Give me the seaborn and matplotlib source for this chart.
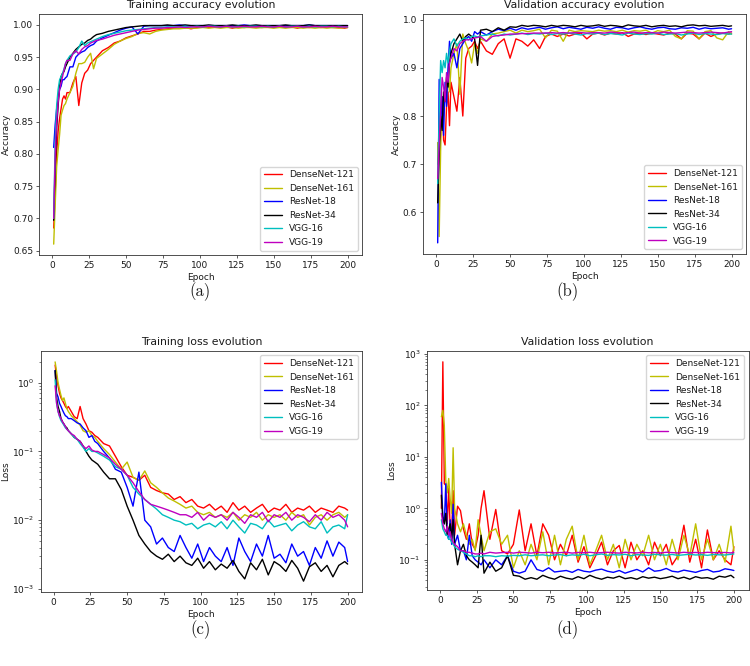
import matplotlib
matplotlib.use("Agg")
import matplotlib.pyplot as plt
import seaborn as sns

# ---------- data ----------
MODELS = ["DenseNet-121", "DenseNet-161", "ResNet-18", "ResNet-34", "VGG-16", "VGG-19"]
COLORS = ["r", "y", "b", "k", "c", "m"]

EPOCHS = [1, 2, 3, 4, 5, 6, 7, 8, 9, 10,
          12, 14, 16, 18, 20, 22, 24, 26, 28, 30,
          34, 38, 42, 46, 50, 54, 58, 62, 66, 70,
          74, 78, 82, 86, 90, 94, 98, 102, 106, 110,
          114, 118, 122, 126, 130, 134, 138, 142, 146, 150,
          154, 158, 162, 166, 170, 174, 178, 182, 186, 190,
          194, 198, 200]

# (a) training accuracy
ta_d121 = [0.685, 0.74, 0.80, 0.835, 0.855, 0.87, 0.885, 0.89, 0.885, 0.895,
           0.895, 0.91, 0.92, 0.875, 0.91, 0.925, 0.93, 0.94, 0.945, 0.95,
           0.96, 0.965, 0.972, 0.975, 0.98, 0.983, 0.986, 0.99, 0.99, 0.992,
           0.993, 0.994, 0.995, 0.995, 0.996, 0.994, 0.996, 0.997, 0.996, 0.997,
           0.996, 0.997, 0.995, 0.997, 0.996, 0.997, 0.997, 0.996, 0.997, 0.996,
           0.997, 0.996, 0.997, 0.995, 0.997, 0.996, 0.997, 0.996, 0.997, 0.996,
           0.996, 0.995, 0.996]
ta_d161 = [0.66, 0.72, 0.78, 0.806, 0.83, 0.86, 0.868, 0.875, 0.878, 0.885,
           0.895, 0.905, 0.925, 0.94, 0.94, 0.942, 0.95, 0.956, 0.932, 0.948,
           0.955, 0.962, 0.97, 0.975, 0.979, 0.982, 0.987, 0.988, 0.986, 0.99,
           0.992, 0.993, 0.994, 0.994, 0.995, 0.995, 0.995, 0.996, 0.995, 0.996,
           0.995, 0.996, 0.996, 0.995, 0.996, 0.996, 0.995, 0.996, 0.996, 0.995,
           0.996, 0.995, 0.996, 0.996, 0.995, 0.996, 0.995, 0.996, 0.995, 0.996,
           0.995, 0.996, 0.996]
ta_r18 = [0.81, 0.845, 0.87, 0.885, 0.90, 0.905, 0.915, 0.915, 0.918, 0.92,
          0.935, 0.935, 0.95, 0.955, 0.958, 0.96, 0.965, 0.968, 0.97, 0.975,
          0.98, 0.984, 0.988, 0.992, 0.995, 0.997, 0.986, 0.998, 0.999, 0.999,
          0.999, 0.999, 0.999, 1.0, 0.999, 0.999, 0.999, 0.999, 0.999, 0.999,
          0.999, 0.999, 0.999, 0.999, 1.0, 0.999, 0.999, 0.999, 0.999, 0.999,
          0.999, 0.999, 0.999, 0.999, 0.999, 1.0, 0.999, 0.999, 0.999, 0.999,
          0.999, 0.999, 0.999]
ta_r34 = [0.697, 0.78, 0.84, 0.875, 0.905, 0.92, 0.925, 0.928, 0.935, 0.94,
          0.95, 0.956, 0.962, 0.966, 0.97, 0.972, 0.976, 0.978, 0.982, 0.985,
          0.987, 0.99, 0.992, 0.994, 0.996, 0.997, 0.998, 0.999, 0.999, 0.999,
          0.999, 1.0, 0.999, 0.999, 1.0, 0.999, 0.999, 0.999, 1.0, 0.999,
          0.999, 0.999, 1.0, 0.999, 0.999, 0.999, 1.0, 0.999, 0.999, 0.999,
          0.999, 1.0, 0.999, 0.999, 0.999, 1.0, 0.999, 0.999, 0.999, 0.999,
          0.999, 0.999, 0.999]
ta_v16 = [0.70, 0.82, 0.875, 0.90, 0.915, 0.92, 0.925, 0.932, 0.94, 0.945,
          0.952, 0.955, 0.958, 0.965, 0.975, 0.968, 0.972, 0.974, 0.976, 0.978,
          0.982, 0.985, 0.987, 0.989, 0.991, 0.992, 0.993, 0.994, 0.995, 0.996,
          0.996, 0.997, 0.997, 0.997, 0.998, 0.997, 0.998, 0.997, 0.998, 0.998,
          0.997, 0.998, 0.997, 0.998, 0.997, 0.998, 0.998, 0.997, 0.998, 0.997,
          0.998, 0.997, 0.998, 0.998, 0.997, 0.998, 0.997, 0.998, 0.998, 0.997,
          0.998, 0.997, 0.997]
ta_v19 = [0.70, 0.80, 0.85, 0.88, 0.90, 0.91, 0.92, 0.93, 0.94, 0.945,
          0.945, 0.955, 0.96, 0.955, 0.962, 0.966, 0.968, 0.972, 0.974, 0.976,
          0.978, 0.981, 0.984, 0.986, 0.988, 0.99, 0.992, 0.993, 0.994, 0.995,
          0.995, 0.996, 0.996, 0.997, 0.996, 0.997, 0.997, 0.997, 0.998, 0.997,
          0.997, 0.998, 0.997, 0.997, 0.998, 0.997, 0.997, 0.998, 0.997, 0.997,
          0.998, 0.997, 0.997, 0.998, 0.997, 0.997, 0.998, 0.997, 0.997, 0.998,
          0.997, 0.997, 0.997]

# (b) validation accuracy
va_d121 = [0.70, 0.745, 0.76, 0.84, 0.75, 0.74, 0.82, 0.85, 0.78, 0.87,
           0.84, 0.81, 0.88, 0.80, 0.92, 0.94, 0.945, 0.955, 0.94, 0.955,
           0.935, 0.928, 0.95, 0.96, 0.92, 0.96, 0.955, 0.945, 0.958, 0.94,
           0.965, 0.97, 0.965, 0.97, 0.966, 0.97, 0.972, 0.96, 0.97, 0.972,
           0.968, 0.972, 0.97, 0.973, 0.965, 0.97, 0.972, 0.969, 0.972, 0.97,
           0.968, 0.972, 0.97, 0.96, 0.972, 0.97, 0.96, 0.972, 0.965, 0.97,
           0.972, 0.97, 0.972]
va_d161 = [0.745, 0.55, 0.73, 0.84, 0.80, 0.86, 0.83, 0.88, 0.85, 0.90,
           0.93, 0.95, 0.845, 0.97, 0.95, 0.935, 0.91, 0.95, 0.93, 0.96,
           0.955, 0.97, 0.972, 0.975, 0.978, 0.972, 0.978, 0.975, 0.977, 0.98,
           0.962, 0.978, 0.976, 0.955, 0.978, 0.975, 0.977, 0.976, 0.975, 0.978,
           0.976, 0.977, 0.975, 0.978, 0.974, 0.977, 0.976, 0.978, 0.972, 0.977,
           0.975, 0.978, 0.965, 0.96, 0.977, 0.976, 0.96, 0.975, 0.977, 0.962,
           0.958, 0.975, 0.97]
va_r18 = [0.537, 0.876, 0.78, 0.84, 0.76, 0.87, 0.82, 0.90, 0.955, 0.92,
          0.93, 0.90, 0.94, 0.95, 0.96, 0.965, 0.955, 0.975, 0.97, 0.975,
          0.968, 0.975, 0.98, 0.977, 0.982, 0.978, 0.983, 0.98, 0.982, 0.984,
          0.98, 0.983, 0.985, 0.981, 0.984, 0.982, 0.98, 0.984, 0.982, 0.985,
          0.982, 0.98, 0.984, 0.983, 0.98, 0.983, 0.985, 0.982, 0.98, 0.983,
          0.984, 0.981, 0.98, 0.983, 0.982, 0.984, 0.98, 0.983, 0.981, 0.982,
          0.983, 0.98, 0.981]
va_r34 = [0.62, 0.72, 0.80, 0.77, 0.85, 0.83, 0.88, 0.86, 0.91, 0.93,
          0.95, 0.96, 0.97, 0.955, 0.965, 0.97, 0.965, 0.96, 0.905, 0.978,
          0.98, 0.975, 0.983, 0.978, 0.985, 0.984, 0.988, 0.986, 0.988, 0.987,
          0.985, 0.988, 0.986, 0.988, 0.987, 0.985, 0.988, 0.986, 0.987, 0.989,
          0.986, 0.988, 0.987, 0.985, 0.989, 0.987, 0.986, 0.988, 0.985, 0.987,
          0.988, 0.986, 0.987, 0.985, 0.988, 0.989, 0.987, 0.988, 0.986, 0.987,
          0.988, 0.986, 0.987]
va_v16 = [0.66, 0.80, 0.915, 0.89, 0.915, 0.90, 0.93, 0.91, 0.935, 0.95,
          0.96, 0.945, 0.955, 0.96, 0.962, 0.958, 0.965, 0.966, 0.964, 0.966,
          0.968, 0.97, 0.966, 0.97, 0.968, 0.97, 0.972, 0.969, 0.971, 0.97,
          0.972, 0.969, 0.971, 0.97, 0.972, 0.97, 0.968, 0.971, 0.97, 0.972,
          0.969, 0.971, 0.97, 0.968, 0.972, 0.97, 0.969, 0.971, 0.97, 0.972,
          0.969, 0.97, 0.971, 0.968, 0.97, 0.972, 0.969, 0.971, 0.97, 0.969,
          0.971, 0.97, 0.97]
va_v19 = [0.67, 0.74, 0.81, 0.88, 0.86, 0.83, 0.89, 0.87, 0.91, 0.92,
          0.94, 0.935, 0.95, 0.955, 0.958, 0.958, 0.96, 0.962, 0.963, 0.965,
          0.955, 0.965, 0.967, 0.968, 0.97, 0.97, 0.971, 0.971, 0.972, 0.972,
          0.972, 0.973, 0.972, 0.973, 0.972, 0.973, 0.973, 0.972, 0.973, 0.973,
          0.972, 0.974, 0.973, 0.972, 0.973, 0.974, 0.972, 0.973, 0.973, 0.972,
          0.974, 0.973, 0.972, 0.973, 0.974, 0.973, 0.972, 0.973, 0.974, 0.973,
          0.972, 0.974, 0.975]

# (c) training loss
tl_d121 = [1.8, 1.2, 0.9, 0.7, 0.6, 0.55, 0.5, 0.45, 0.42, 0.45,
           0.38, 0.32, 0.3, 0.45, 0.3, 0.25, 0.2, 0.19, 0.17, 0.16,
           0.13, 0.12, 0.085, 0.06, 0.045, 0.042, 0.038, 0.045, 0.03, 0.027,
           0.025, 0.024, 0.02, 0.022, 0.018, 0.02, 0.016, 0.015, 0.017, 0.014,
           0.016, 0.013, 0.018, 0.014, 0.016, 0.013, 0.015, 0.017, 0.013, 0.015,
           0.014, 0.017, 0.013, 0.015, 0.014, 0.016, 0.013, 0.015, 0.014, 0.013,
           0.016, 0.015, 0.014]
tl_d161 = [2.0, 1.45, 1.0, 0.8, 0.65, 0.55, 0.6, 0.5, 0.42, 0.38,
           0.33, 0.3, 0.27, 0.24, 0.2, 0.19, 0.2, 0.17, 0.16, 0.14,
           0.11, 0.09, 0.07, 0.055, 0.07, 0.042, 0.038, 0.052, 0.035, 0.03,
           0.025, 0.021, 0.019, 0.017, 0.015, 0.016, 0.013, 0.012, 0.013, 0.011,
           0.012, 0.011, 0.013, 0.010, 0.012, 0.011, 0.013, 0.010, 0.012, 0.011,
           0.012, 0.010, 0.013, 0.011, 0.012, 0.0085, 0.011, 0.012, 0.010, 0.012,
           0.013, 0.011, 0.012]
tl_r18 = [1.5, 0.7, 0.62, 0.5, 0.45, 0.4, 0.36, 0.33, 0.32, 0.3,
          0.3, 0.28, 0.26, 0.25, 0.22, 0.2, 0.16, 0.17, 0.14, 0.13,
          0.1, 0.08, 0.055, 0.05, 0.03, 0.016, 0.05, 0.01, 0.008, 0.0045,
          0.0055, 0.004, 0.0035, 0.006, 0.004, 0.0028, 0.0045, 0.0025, 0.004, 0.003,
          0.0025, 0.004, 0.0022, 0.0055, 0.0035, 0.0025, 0.0045, 0.003, 0.006, 0.0028,
          0.0032, 0.0024, 0.0045, 0.003, 0.0035, 0.0022, 0.004, 0.0028, 0.005, 0.003,
          0.0048, 0.004, 0.0025]
tl_r34 = [1.5, 0.6, 0.45, 0.38, 0.3, 0.27, 0.25, 0.23, 0.22, 0.2,
          0.18, 0.16, 0.15, 0.14, 0.12, 0.1, 0.085, 0.075, 0.07, 0.065,
          0.05, 0.04, 0.04, 0.028, 0.016, 0.01, 0.006, 0.0045, 0.0035, 0.003,
          0.0027, 0.0032, 0.0025, 0.003, 0.0024, 0.0022, 0.0028, 0.002, 0.0025, 0.0019,
          0.0023, 0.002, 0.0026, 0.0018, 0.0014, 0.0024, 0.0019, 0.0027, 0.0016, 0.0025,
          0.0022, 0.0018, 0.0026, 0.002, 0.0013, 0.0021, 0.0024, 0.0018, 0.0022, 0.0015,
          0.0022, 0.0025, 0.0023]
tl_v16 = [1.1, 0.5, 0.38, 0.32, 0.28, 0.26, 0.24, 0.22, 0.21, 0.2,
          0.18, 0.16, 0.15, 0.13, 0.115, 0.1, 0.11, 0.1, 0.1, 0.095,
          0.085, 0.075, 0.06, 0.055, 0.045, 0.03, 0.024, 0.02, 0.017, 0.0145,
          0.012, 0.011, 0.01, 0.0095, 0.0085, 0.009, 0.0075, 0.0085, 0.009, 0.008,
          0.0095, 0.0075, 0.01, 0.008, 0.0065, 0.009, 0.0085, 0.0075, 0.01, 0.008,
          0.0085, 0.009, 0.007, 0.0085, 0.0095, 0.008, 0.0075, 0.0095, 0.0065, 0.008,
          0.0085, 0.0075, 0.012]
tl_v19 = [0.9, 0.5, 0.38, 0.33, 0.3, 0.27, 0.25, 0.23, 0.21, 0.2,
          0.18, 0.17, 0.15, 0.14, 0.12, 0.11, 0.12, 0.105, 0.1, 0.1,
          0.09, 0.08, 0.065, 0.055, 0.045, 0.035, 0.026, 0.02, 0.017, 0.016,
          0.015, 0.014, 0.013, 0.012, 0.012, 0.011, 0.013, 0.01, 0.012, 0.011,
          0.012, 0.01, 0.013, 0.011, 0.009, 0.012, 0.011, 0.013, 0.0095, 0.012,
          0.011, 0.013, 0.01, 0.012, 0.011, 0.0095, 0.012, 0.01, 0.013, 0.011,
          0.012, 0.01, 0.008]

# (d) validation loss
vl_d121 = [1.0, 700, 3.0, 2.8, 0.5, 2.5, 0.4, 0.35, 2.2, 0.3,
           1.1, 0.9, 0.4, 0.25, 0.5, 0.2, 0.16, 0.3, 1.0, 2.2,
           0.25, 0.95, 0.15, 0.13, 0.2, 0.93, 0.15, 0.5, 0.12, 0.5,
           0.3, 0.1, 0.2, 0.12, 0.3, 0.09, 0.18, 0.07, 0.12, 0.22,
           0.08, 0.15, 0.19, 0.07, 0.22, 0.1, 0.15, 0.08, 0.22, 0.12,
           0.2, 0.08, 0.12, 0.47, 0.09, 0.25, 0.07, 0.38, 0.1, 0.15,
           0.1, 0.08, 0.18]
vl_d161 = [60, 80, 40, 3.5, 2.0, 3.8, 1.5, 0.8, 15, 1.0,
           0.5, 0.35, 0.5, 0.3, 0.2, 0.25, 0.15, 0.6, 0.3, 0.15,
           0.35, 0.4, 0.2, 0.3, 0.07, 0.15, 0.08, 0.2, 0.1, 0.35,
           0.08, 0.3, 0.08, 0.25, 0.45, 0.1, 0.3, 0.08, 0.15, 0.3,
           0.1, 0.2, 0.07, 0.25, 0.1, 0.2, 0.12, 0.3, 0.1, 0.2,
           0.08, 0.25, 0.1, 0.3, 0.12, 0.5, 0.1, 0.25, 0.1, 0.2,
           0.09, 0.45, 0.15]
vl_r18 = [3.2, 0.7, 0.5, 3.0, 0.3, 0.25, 0.6, 0.2, 1.2, 0.2,
          0.3, 0.15, 0.15, 0.1, 0.3, 0.12, 0.1, 0.09, 0.08, 0.1,
          0.07, 0.1, 0.08, 0.12, 0.06, 0.055, 0.06, 0.1, 0.065, 0.06,
          0.07, 0.058, 0.06, 0.062, 0.057, 0.065, 0.06, 0.058, 0.063, 0.066,
          0.06, 0.057, 0.062, 0.055, 0.06, 0.065, 0.058, 0.07, 0.06, 0.062,
          0.068, 0.06, 0.058, 0.063, 0.06, 0.057, 0.062, 0.065, 0.058, 0.06,
          0.067, 0.064, 0.062]
vl_r34 = [1.8, 0.6, 0.5, 0.8, 0.3, 0.4, 0.5, 0.25, 0.6, 0.2,
          0.08, 0.15, 0.2, 0.12, 0.1, 0.09, 0.08, 0.07, 0.3, 0.055,
          0.09, 0.06, 0.07, 0.12, 0.05, 0.048, 0.042, 0.045, 0.042, 0.05,
          0.045, 0.042, 0.048, 0.044, 0.042, 0.047, 0.043, 0.05, 0.045, 0.042,
          0.046, 0.044, 0.048, 0.043, 0.045, 0.042, 0.047, 0.044, 0.046, 0.043,
          0.045, 0.048, 0.043, 0.046, 0.042, 0.047, 0.044, 0.045, 0.042, 0.048,
          0.046, 0.05, 0.045]
vl_v16 = [0.6, 0.4, 0.35, 0.3, 0.3, 0.25, 0.25, 0.22, 0.2, 0.18,
          0.16, 0.15, 0.14, 0.13, 0.12, 0.12, 0.115, 0.12, 0.115, 0.12,
          0.12, 0.115, 0.12, 0.118, 0.122, 0.12, 0.125, 0.12, 0.123, 0.125,
          0.12, 0.124, 0.126, 0.12, 0.125, 0.122, 0.128, 0.12, 0.125, 0.13,
          0.122, 0.126, 0.124, 0.128, 0.12, 0.126, 0.124, 0.122, 0.128, 0.125,
          0.123, 0.127, 0.122, 0.125, 0.128, 0.124, 0.126, 0.122, 0.127, 0.125,
          0.124, 0.128, 0.13]
vl_v19 = [0.8, 0.5, 0.4, 0.35, 0.45, 0.3, 0.35, 0.25, 0.22, 0.2,
          0.18, 0.15, 0.15, 0.14, 0.14, 0.135, 0.13, 0.13, 0.135, 0.13,
          0.14, 0.135, 0.138, 0.14, 0.135, 0.14, 0.138, 0.135, 0.14, 0.137,
          0.14, 0.136, 0.138, 0.14, 0.135, 0.139, 0.137, 0.14, 0.136, 0.138,
          0.14, 0.137, 0.135, 0.14, 0.138, 0.136, 0.14, 0.137, 0.139, 0.136,
          0.14, 0.138, 0.136, 0.14, 0.137, 0.139, 0.136, 0.14, 0.138, 0.137,
          0.139, 0.136, 0.14]

# ---------- style ----------
sns.set_style("ticks")
plt.rcParams.update({
    "font.family": ["DejaVu Sans"],
    "axes.edgecolor": "0.2",
    "axes.linewidth": 0.6,
    "text.color": "0.1",
    "axes.labelcolor": "0.1",
    "xtick.color": "0.1",
    "ytick.color": "0.1",
    "xtick.major.size": 2.3,
    "ytick.major.size": 2.3,
    "xtick.minor.size": 1.3,
    "ytick.minor.size": 1.3,
    "xtick.major.width": 0.5,
    "ytick.major.width": 0.5,
    "xtick.minor.width": 0.4,
    "ytick.minor.width": 0.4,
    "xtick.major.pad": 2.3,
    "ytick.major.pad": 2.0,
})

FS = 6.5


def panel(ax, series, title, ylabel, loc, log=False):
    for name, color, vals in zip(MODELS, COLORS, series):
        sns.lineplot(x=EPOCHS, y=vals, color=color, label=name, lw=1.0, ax=ax)
    if log:
        ax.set_yscale("log")
    ax.set_xticks([0, 25, 50, 75, 100, 125, 150, 175, 200])
    ax.tick_params(labelsize=FS)
    ax.set_title(title, fontsize=7.8, pad=4)
    ax.set_xlabel("Epoch", fontsize=FS, labelpad=2)
    ax.set_ylabel(ylabel, fontsize=FS, labelpad=1.5)
    ax.legend(loc=loc, fontsize=FS, frameon=True, fancybox=True,
              framealpha=0.8, edgecolor="0.8", borderpad=0.4,
              handlelength=2.0, labelspacing=0.5)


fig = plt.figure(figsize=(7.5, 6.66), dpi=100)
ax_a = fig.add_axes([0.052, 0.617, 0.431, 0.362])
ax_b = fig.add_axes([0.564, 0.619, 0.431, 0.360])
ax_c = fig.add_axes([0.054, 0.111, 0.429, 0.362])
ax_d = fig.add_axes([0.569, 0.114, 0.429, 0.359])

panel(ax_a, [ta_d121, ta_d161, ta_r18, ta_r34, ta_v16, ta_v19],
      "Training accuracy evolution", "Accuracy", "lower right")
panel(ax_b, [va_d121, va_d161, va_r18, va_r34, va_v16, va_v19],
      "Validation accuracy evolution", "Accuracy", "lower right")
panel(ax_c, [tl_d121, tl_d161, tl_r18, tl_r34, tl_v16, tl_v19],
      "Training loss evolution", "Loss", "upper right", log=True)
panel(ax_d, [vl_d121, vl_d161, vl_r18, vl_r34, vl_v16, vl_v19],
      "Validation loss evolution", "Loss", "upper right", log=True)

# sub-figure captions
cap = dict(fontsize=12, family=["cmr10", "DejaVu Serif"], ha="center", va="center")
fig.text(0.267, 1 - 292 / 666, "(a)", **cap)
fig.text(0.757, 1 - 292 / 666, "(b)", **cap)
fig.text(0.267, 1 - 630 / 666, "(c)", **cap)
fig.text(0.757, 1 - 630 / 666, "(d)", **cap)

fig.savefig("out.png", dpi=100, facecolor="white")
